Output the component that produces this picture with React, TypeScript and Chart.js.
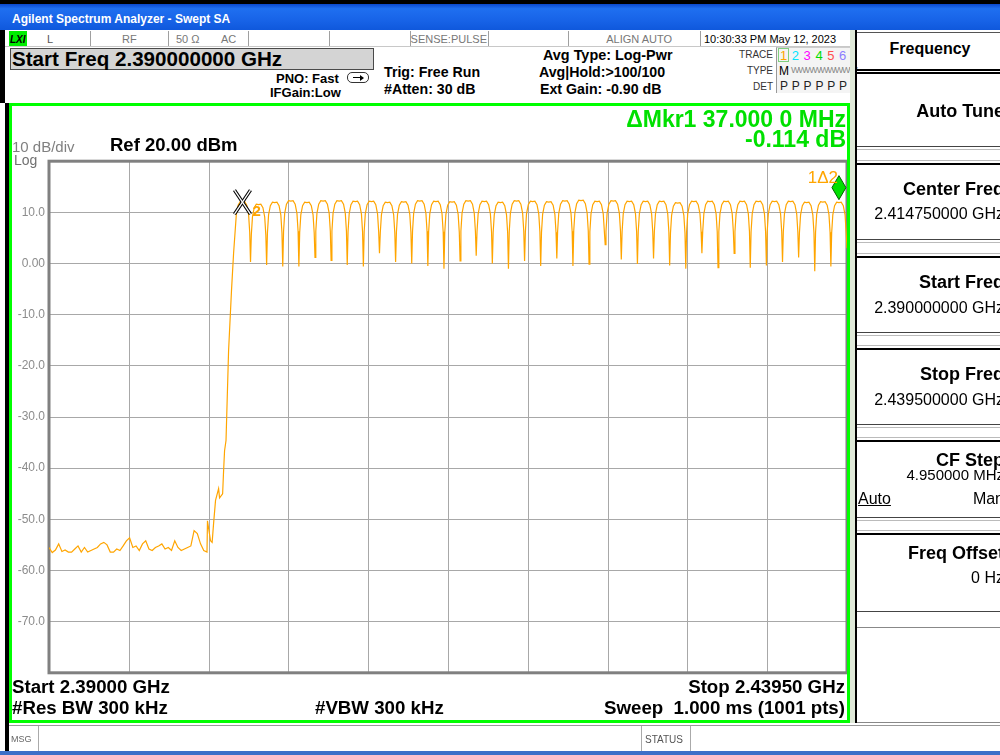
import React, { useEffect, useRef } from 'react';
import { Chart, registerables } from 'chart.js';

Chart.register(...registerables);

const FONT = '"Liberation Sans", Arial, sans-serif';

// ---- axis definition ----
const START_MHZ = 2390.0;
const STOP_MHZ = 2439.5;
const X_DIVS = 10;
const REF_DBM = 20;
const BOTTOM_DBM = -80;
const DB_PER_DIV = 10;

// ---- trace: noise floor left of the band (every 0.2 MHz from 2390.0) ----
const NOISE_START_MHZ = 2390.0;
const NOISE_STEP_MHZ = 0.2;
const noiseFloorDbm = [
  -55.5, -56.5, -56.0, -54.8, -56.3, -56.0, -56.4, -56.4, -55.8, -55.2,
  -56.4, -55.5, -56.4, -56.1, -55.8, -55.5, -54.8, -54.5, -55.0, -56.4,
  -56.4, -55.8, -56.1, -55.2, -54.2, -53.6, -55.5, -55.2, -56.1, -54.8,
  -54.2, -55.8, -56.1, -55.5, -55.2, -54.8, -55.8, -55.5, -56.1, -54.2,
  -55.5, -56.1, -55.8, -55.5, -55.2, -52.2, -52.8, -54.8, -56.1, -56.4,
];

// ---- trace: band edge skirt ----
const riseMHz = [2399.83, 2400.02, 2400.12, 2400.21, 2400.33, 2400.52, 2400.58, 2400.77, 2400.83, 2400.89, 2400.98, 2401.14, 2401.32, 2401.45];
const riseDbm = [-50.3, -54.2, -54.5, -50.8, -46.3, -44.0, -45.8, -45.0, -40.5, -36.6, -34.6, -17.0, -5.3, 2.0];

// ---- trace: hopping channels 2402..2439 MHz ----
const FIRST_CHANNEL_MHZ = 2402;
const channelTopDbm = [
  12.1, 11.6, 12.0, 12.3, 12.0, 12.3, 12.3, 12.2, 12.2, 12.0,
  12.1, 12.3, 12.2, 12.1, 12.3, 12.2, 12.0, 12.3, 12.2, 12.1,
  12.3, 12.4, 12.2, 12.3, 12.2, 12.2, 12.2, 11.9, 12.2, 12.2,
  12.2, 12.2, 12.2, 12.2, 12.2, 12.0, 12.1, 12.0,
];
// level reached in the gap after each channel (last one = stop frequency)
const channelDipDbm = [
  0.3, -0.3, -0.6, -0.6, 1.2, 0.6, -0.3, -0.6, 2.0, 0.3,
  0.0, -0.5, -1.0, 0.5, 1.5, 0.0, -1.0, 0.5, -0.5, 1.0,
  -0.5, -0.1, 3.7, 0.8, -0.1, 1.0, -0.4, -1.0, 2.0, -0.8,
  2.0, -0.8, -0.4, 0.3, 1.2, -1.5, -0.6, 3.0,
];
// typical channel profile (offset from centre, dB below top)
const humpOffsetsMHz = [-0.45, -0.38, -0.27, -0.14, 0, 0.14, 0.27, 0.38, 0.45];
const humpShapeDb = [-6.0, -2.5, -0.7, 0, -0.1, 0, -0.7, -2.5, -6.0];

// ---- markers ----
const markerNames = ['1', '2'];
const markerFreqMHz = [2439, 2402];

const yTickValues = [10, 0, -10, -20, -30, -40, -50, -60, -70];

function buildTrace() {
  const pts: { x: number; y: number }[] = [];
  noiseFloorDbm.forEach((v, i) => pts.push({ x: NOISE_START_MHZ + i * NOISE_STEP_MHZ, y: v }));
  riseMHz.forEach((f, i) => pts.push({ x: f, y: riseDbm[i] }));
  channelTopDbm.forEach((top, k) => {
    const c = FIRST_CHANNEL_MHZ + k;
    humpOffsetsMHz.forEach((o, j) => {
      if (k === 0 && o < -0.4) return;
      pts.push({ x: c + o, y: top + humpShapeDb[j] });
    });
    pts.push({ x: c + 0.5, y: channelDipDbm[k] });
  });
  return pts;
}

function Txt(props: {
  x: number; b: number; s: number; bold?: boolean; c?: string; align?: 'left' | 'right' | 'center';
  children: React.ReactNode; style?: React.CSSProperties; fam?: string;
}) {
  const { x, b, s, bold, c, align = 'left', children, style, fam } = props;
  const st: React.CSSProperties = {
    position: 'absolute', top: b - 0.8465 * s, fontSize: s, lineHeight: `${s}px`,
    fontWeight: bold ? 700 : 400, color: c || '#000', whiteSpace: 'pre', fontFamily: fam || FONT, ...style,
  };
  if (align === 'left') st.left = x;
  else if (align === 'right') st.right = 1000 - x;
  else { st.left = x; st.transform = 'translateX(-50%)'; }
  return <div style={st}>{children}</div>;
}

function Box(p: { l: number; t: number; w: number; h: number; style?: React.CSSProperties; children?: React.ReactNode }) {
  return <div style={{ position: 'absolute', left: p.l, top: p.t, width: p.w, height: p.h, boxSizing: 'border-box', ...p.style }}>{p.children}</div>;
}

export default function App() {
  const ref = useRef<HTMLCanvasElement>(null);

  useEffect(() => {
    const trace = buildTrace();
    const xGrid: number[] = [];
    for (let i = 0; i <= X_DIVS; i++) xGrid.push(START_MHZ + (i * (STOP_MHZ - START_MHZ)) / X_DIVS);

    const framePlugin = {
      id: 'frame',
      beforeDatasetsDraw(chart: any) {
        const { ctx, chartArea: a, scales } = chart;
        ctx.save();
        ctx.strokeStyle = '#a8a8a8';
        ctx.lineWidth = 1;
        xGrid.forEach((f) => {
          const x = Math.round(scales.x.getPixelForValue(f)) + 0.5;
          ctx.beginPath(); ctx.moveTo(x, a.top); ctx.lineTo(x, a.bottom); ctx.stroke();
        });
        ctx.strokeStyle = '#808080';
        ctx.lineWidth = 3;
        ctx.strokeRect(a.left, a.top, a.right - a.left, a.bottom - a.top);
        ctx.restore();
      },
    };

    const markerPlugin = {
      id: 'markers',
      afterDatasetsDraw(chart: any) {
        const { ctx, scales } = chart;
        const levelAt = (f: number) => {
          let best = trace[0];
          for (const p of trace) if (Math.abs(p.x - f) < Math.abs(best.x - f)) best = p;
          return best.y;
        };
        ctx.save();
        markerFreqMHz.forEach((f, i) => {
          const px = scales.x.getPixelForValue(f);
          const py = scales.y.getPixelForValue(levelAt(f));
          if (markerNames[i] === '2') {
            const cx = px, cy = py;
            const segs = [[cx - 8, cy - 12, cx + 8, cy + 12], [cx + 8, cy - 12, cx - 8, cy + 12]];
            ctx.strokeStyle = '#000';
            ctx.lineWidth = 3.5;
            segs.forEach((s) => { ctx.beginPath(); ctx.moveTo(s[0], s[1]); ctx.lineTo(s[2], s[3]); ctx.stroke(); });
            ctx.strokeStyle = '#fff';
            ctx.lineWidth = 1.3;
            segs.forEach((s) => { ctx.beginPath(); ctx.moveTo(s[0], s[1]); ctx.lineTo(s[2], s[3]); ctx.stroke(); });
            ctx.fillStyle = '#ffa500';
            ctx.font = `bold 15px ${FONT}`;
            ctx.textAlign = 'left';
            ctx.textBaseline = 'alphabetic';
            ctx.fillText('2', cx + 10, cy + 14);
          } else {
            const cy = py - 15;
            ctx.beginPath();
            ctx.moveTo(px, cy - 12);
            ctx.lineTo(px + 7, cy);
            ctx.lineTo(px, cy + 12);
            ctx.lineTo(px - 7, cy);
            ctx.closePath();
            ctx.fillStyle = '#00e000';
            ctx.fill();
            ctx.strokeStyle = '#006000';
            ctx.lineWidth = 1;
            ctx.stroke();
            ctx.fillStyle = '#ffa500';
            ctx.font = `17px ${FONT}`;
            ctx.textAlign = 'right';
            ctx.fillText('1\u03942', px - 1, py - 20);
          }
        });
        ctx.restore();
      },
    };

    const chart = new Chart(ref.current!, {
      type: 'line',
      data: {
        datasets: [
          {
            data: trace,
            borderColor: '#ffa500',
            borderWidth: 1.2,
            pointRadius: 0,
            tension: 0,
            fill: false,
          },
        ],
      },
      options: {
        animation: false,
        responsive: false,
        maintainAspectRatio: false,
        devicePixelRatio: 1,
        parsing: false,
        layout: { padding: { top: 11, right: 3, bottom: 0, left: 0 } },
        plugins: { legend: { display: false }, tooltip: { enabled: false } },
        scales: {
          x: {
            type: 'linear',
            display: false,
            min: START_MHZ,
            max: STOP_MHZ,
          },
          y: {
            type: 'linear',
            min: BOTTOM_DBM,
            max: REF_DBM,
            afterBuildTicks: (s: any) => {
              const t: any[] = [];
              for (let v = REF_DBM; v >= BOTTOM_DBM; v -= DB_PER_DIV) t.push({ value: v });
              s.ticks = t.reverse();
            },
            afterFit: (s: any) => { s.width = 39; },
            ticks: {
              color: '#8c8c8c',
              font: { family: FONT, size: 12 },
              padding: 4,
              callback: (v: any) => {
                if (!yTickValues.includes(v)) return null;
                return v === 0 ? '0.00' : Number(v).toFixed(1);
              },
            },
            grid: { color: '#a8a8a8', lineWidth: 1, drawTicks: false },
            border: { display: false },
          },
        },
      },
      plugins: [framePlugin, markerPlugin],
    } as any);
    return () => chart.destroy();
  }, []);

  const statusDividers = [90, 168, 248, 329, 410, 488, 568, 700, 850];
  const menuBoxes = [
    { t: 72, h: 75 },
    { t: 163, h: 77 },
    { t: 256, h: 77 },
    { t: 348, h: 77 },
    { t: 440, h: 78 },
    { t: 533, h: 79 },
  ];
  const traceColors = ['#ffa500', '#00e5ff', '#ff00ff', '#00dd00', '#ff4d4d', '#8c7cff'];

  return (
    <div style={{ position: 'fixed', left: 0, top: 0, width: 1000, height: 755, overflow: 'hidden', background: '#fff', fontFamily: FONT }}>
      {/* window frame */}
      <Box l={0} t={0} w={1000} h={4} style={{ background: '#000' }} />
      <Box l={0} t={4} w={1000} h={26} style={{ background: 'linear-gradient(#0a47cc 0%, #1f6ff0 18%, #1864e8 60%, #0f58dc 100%)' }} />
      <Txt x={12} b={23} s={12} bold c="#fff">Agilent Spectrum Analyzer - Swept SA</Txt>
      <Box l={0} t={30} w={5} h={73} style={{ background: '#000' }} />
      <Box l={5} t={103} w={4} h={652} style={{ background: '#000' }} />

      {/* status row */}
      <Box l={5} t={30} w={848} h={17} style={{ borderBottom: '1px solid #c8c8c8' }} />
      {statusDividers.map((x) => (
        <Box key={x} l={x} t={31} w={1} h={15} style={{ background: '#a0a0a0' }} />
      ))}
      <Box l={9} t={31} w={18} h={15} style={{ background: '#00ee00' }} />
      <Txt x={10} b={43} s={10} bold style={{ fontStyle: 'italic' }}>LXI</Txt>
      <Txt x={47} b={43} s={11} c="#555">L</Txt>
      <Txt x={122} b={43} s={11} c="#777">RF</Txt>
      <Txt x={176} b={43} s={11} c="#777">50 Ω</Txt>
      <Txt x={221} b={43} s={11} c="#777">AC</Txt>
      <Txt x={487} b={43} s={11} c="#777" align="right">SENSE:PULSE</Txt>
      <Txt x={672} b={43} s={11} c="#777" align="right">ALIGN AUTO</Txt>
      <Txt x={704} b={43} s={11} c="#000">10:30:33 PM May 12, 2023</Txt>

      {/* header */}
      <Box l={10} t={48} w={364} h={22} style={{ background: '#d4d4d4', border: '1px solid #4a4a4a' }} />
      <Txt x={12} b={66} s={20.6} bold>Start Freq 2.390000000 GHz</Txt>
      <Txt x={276} b={83} s={13} bold>PNO: Fast</Txt>
      <Txt x={270} b={97} s={13} bold>IFGain:Low</Txt>
      <Box l={347} t={72} w={22} h={11} style={{ border: '1px solid #333', borderRadius: 5 }} />
      <Box l={353} t={77} w={9} h={1} style={{ background: '#000' }} />
      <Box l={360} t={75} w={0} h={0} style={{ borderTop: '3px solid transparent', borderBottom: '3px solid transparent', borderLeft: '4px solid #000' }} />
      <Txt x={384} b={77} s={14.2} bold>Trig: Free Run</Txt>
      <Txt x={384} b={94} s={14.2} bold>#Atten: 30 dB</Txt>
      <Txt x={543} b={60} s={14.4} bold>Avg Type: Log-Pwr</Txt>
      <Txt x={539} b={77} s={14.2} bold>Avg|Hold:&gt;100/100</Txt>
      <Txt x={540} b={94} s={14.2} bold>Ext Gain: -0.90 dB</Txt>

      {/* trace legend box */}
      <Txt x={773} b={58} s={10} c="#333" align="right">TRACE</Txt>
      <Txt x={773} b={74} s={10} c="#333" align="right">TYPE</Txt>
      <Txt x={773} b={90} s={10} c="#333" align="right">DET</Txt>
      <Box l={776} t={47} w={74} h={46} style={{ background: '#f4f4f4', borderLeft: '1px solid #999', borderTop: '1px solid #ccc' }} />
      <Box l={778} t={48} w={11} h={14} style={{ border: '1px solid #7fcf7f' }} />
      {traceColors.map((c, i) => (
        <Txt key={i} x={780 + i * 11.8} b={60} s={13} c={c}>{String(i + 1)}</Txt>
      ))}
      <Txt x={779} b={75} s={12} c="#000">M</Txt>
      <Txt x={791} b={74} s={9} c="#888" style={{ letterSpacing: -1.2 }}>WWWWWWWWW</Txt>
      {[0, 1, 2, 3, 4, 5].map((i) => (
        <Txt key={i} x={780 + i * 11.8} b={90} s={12} c="#222">P</Txt>
      ))}

      {/* plot panel */}
      <canvas ref={ref} width={840} height={534} style={{ position: 'absolute', left: 10, top: 150, width: 840, height: 534 }} />
      <Box l={9} t={103} w={841} h={620} style={{ border: '3px solid #00ff00', pointerEvents: 'none' }} />
      <Box l={850} t={30} w={5} h={693} style={{ background: '#dfe9d8' }} />
      <Txt x={846} b={127} s={23} bold c="#00e000" align="right">ΔMkr1 37.000 0 MHz</Txt>
      <Txt x={846} b={147} s={23} bold c="#00e000" align="right">-0.114 dB</Txt>
      <Txt x={12} b={152} s={15} c="#808080">10 dB/div</Txt>
      <Txt x={14} b={165} s={14} c="#707070">Log</Txt>
      <Txt x={110} b={152} s={18.5} bold>Ref 20.00 dBm</Txt>

      <Txt x={12} b={694} s={18.7} bold>Start 2.39000 GHz</Txt>
      <Txt x={845} b={694} s={18.7} bold align="right">Stop 2.43950 GHz</Txt>
      <Txt x={12} b={715} s={18.7} bold>#Res BW 300 kHz</Txt>
      <Txt x={315} b={715} s={18.7} bold>#VBW 300 kHz</Txt>
      <Txt x={845} b={715} s={18.7} bold align="right">Sweep  1.000 ms (1001 pts)</Txt>

      {/* right menu */}
      <Box l={855} t={30} w={2} h={693} style={{ background: '#000' }} />
      <Box l={857} t={32} w={150} h={39} style={{ borderTop: '1px solid #555', borderBottom: '2px solid #000' }} />
      <Txt x={930} b={55} s={16} bold align="center">Frequency</Txt>
      {menuBoxes.map((m, i) => (
        <React.Fragment key={i}>
          <Box l={857} t={m.t} w={150} h={m.h} style={{ borderTop: '2px solid #000', borderBottom: '1px solid #444' }} />
          {i < menuBoxes.length - 1 && (
            <Box l={857} t={m.t + m.h + 2} w={150} h={menuBoxes[i + 1].t - m.t - m.h - 4} style={{ borderTop: '1px solid #bbb', borderBottom: '1px solid #bbb' }} />
          )}
        </React.Fragment>
      ))}
      <Txt x={1004} b={117} s={18} bold align="right">Auto Tune</Txt>
      <Txt x={1004} b={195} s={18} bold align="right">Center Freq</Txt>
      <Txt x={1004} b={220} s={16} align="right">2.414750000 GHz</Txt>
      <Txt x={1004} b={288} s={18} bold align="right">Start Freq</Txt>
      <Txt x={1004} b={314} s={16} align="right">2.390000000 GHz</Txt>
      <Txt x={1004} b={380} s={18} bold align="right">Stop Freq</Txt>
      <Txt x={1004} b={406} s={16} align="right">2.439500000 GHz</Txt>
      <Txt x={1004} b={466} s={18} bold align="right">CF Step</Txt>
      <Txt x={1004} b={480} s={15} align="right">4.950000 MHz</Txt>
      <Txt x={858} b={505} s={16} style={{ textDecoration: 'underline' }}>Auto</Txt>
      <Txt x={1004} b={505} s={16} align="right">Man</Txt>
      <Txt x={1004} b={559} s={18} bold align="right">Freq Offset</Txt>
      <Txt x={1004} b={584} s={16} align="right">0 Hz</Txt>
      <Box l={857} t={627} w={150} h={96} style={{ borderTop: '1px solid #888', borderBottom: '1px solid #888' }} />

      {/* message bar */}
      <Box l={9} t={725} w={991} h={26} style={{ borderTop: '1px solid #999', background: '#fff' }} />
      <Box l={38} t={726} w={1} h={25} style={{ background: '#aaa' }} />
      <Box l={641} t={726} w={1} h={25} style={{ background: '#aaa' }} />
      <Box l={690} t={726} w={1} h={25} style={{ background: '#aaa' }} />
      <Txt x={11} b={743} s={9} c="#666">MSG</Txt>
      <Txt x={645} b={743} s={10} c="#555">STATUS</Txt>
      <Box l={0} t={751} w={1000} h={4} style={{ background: '#3d6fc8' }} />
    </div>
  );
}
